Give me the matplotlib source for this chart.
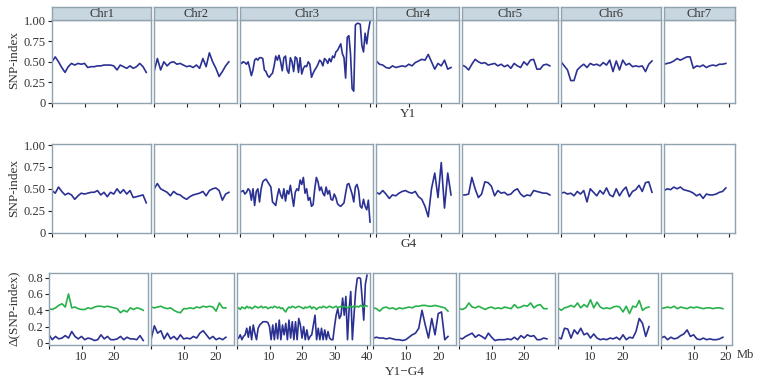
import numpy as np
import matplotlib
matplotlib.use('Agg')
import matplotlib.pyplot as plt

plt.rcParams['font.family'] = ['Liberation Serif', 'DejaVu Serif']

chroms = ['Chr1', 'Chr2', 'Chr3', 'Chr4', 'Chr5', 'Chr6', 'Chr7']
chrom_len = [30.5, 25.5, 41.0, 25.5, 29.5, 30.8, 21.8]   # Mb, axis range
step = [1, 1, 0.5, 1, 1, 1, 1]                          # Mb between points
xticks = [[0, 10, 20], [0, 10, 20], [0, 10, 20, 30, 40], [0, 10, 20],
          [0, 10, 20], [0, 10, 20], [0, 10, 20]]

# SNP-index of Y1
y1_chr1 = [0.50, 0.56, 0.50, 0.43, 0.37, 0.44, 0.48, 0.46, 0.48, 0.47, 0.48, 0.43, 0.44, 0.44, 0.45,
           0.45, 0.46, 0.46, 0.46, 0.45, 0.40, 0.46, 0.44, 0.42, 0.45, 0.42, 0.44, 0.48, 0.44, 0.37]
y1_chr2 = [0.38, 0.54, 0.40, 0.50, 0.45, 0.49, 0.50, 0.47, 0.48, 0.46, 0.44, 0.45, 0.43, 0.46, 0.42,
           0.54, 0.44, 0.61, 0.50, 0.42, 0.32, 0.38, 0.45, 0.50]
y1_chr3 = [0.50, 0.48, 0.50, 0.49, 0.47, 0.50, 0.42, 0.33, 0.40, 0.52,
           0.54, 0.52, 0.55, 0.55, 0.54, 0.40, 0.38, 0.33, 0.31, 0.34,
           0.36, 0.45, 0.57, 0.52, 0.58, 0.50, 0.39, 0.55, 0.57, 0.40,
           0.36, 0.55, 0.50, 0.38, 0.56, 0.54, 0.37, 0.55, 0.35, 0.42,
           0.45, 0.44, 0.50, 0.47, 0.31, 0.36, 0.40, 0.43, 0.47, 0.52,
           0.50, 0.45, 0.54, 0.52, 0.48, 0.54, 0.50, 0.57, 0.55, 0.62,
           0.64, 0.68, 0.72, 0.60, 0.55, 0.30, 0.80, 0.82, 0.60, 0.17,
           0.14, 0.95, 0.97, 0.97, 0.96, 0.70, 0.62, 0.85, 0.72, 0.88,
           0.99]
y1_chr4 = [0.51, 0.47, 0.46, 0.43, 0.42, 0.45, 0.43, 0.44, 0.45, 0.44, 0.47, 0.45, 0.49, 0.51, 0.53,
           0.52, 0.59, 0.50, 0.41, 0.48, 0.45, 0.52, 0.41, 0.43]
y1_chr5 = [0.46, 0.44, 0.40, 0.47, 0.53, 0.50, 0.48, 0.49, 0.46, 0.47, 0.48, 0.45, 0.47, 0.44, 0.46,
           0.42, 0.48, 0.45, 0.43, 0.50, 0.46, 0.52, 0.53, 0.41, 0.41, 0.46, 0.47, 0.45]
y1_chr6 = [0.50, 0.45, 0.40, 0.27, 0.27, 0.40, 0.44, 0.47, 0.43, 0.48, 0.46, 0.47, 0.45, 0.49, 0.46,
           0.52, 0.38, 0.51, 0.40, 0.52, 0.46, 0.48, 0.44, 0.45, 0.44, 0.45, 0.38, 0.47, 0.51]
y1_chr7 = [0.47, 0.48, 0.49, 0.51, 0.54, 0.52, 0.54, 0.56, 0.56, 0.42, 0.45, 0.44, 0.46, 0.43, 0.45,
           0.46, 0.45, 0.47, 0.47, 0.48]

# SNP-index of G4
g4_chr1 = [0.48, 0.45, 0.52, 0.47, 0.43, 0.45, 0.43, 0.38, 0.42, 0.45, 0.44, 0.45, 0.46, 0.46, 0.48,
           0.43, 0.46, 0.41, 0.46, 0.44, 0.50, 0.45, 0.49, 0.44, 0.48, 0.40, 0.41, 0.42, 0.43, 0.34]
g4_chr2 = [0.50, 0.56, 0.50, 0.48, 0.46, 0.42, 0.47, 0.44, 0.43, 0.40, 0.38, 0.41, 0.43, 0.44, 0.45,
           0.47, 0.42, 0.48, 0.50, 0.51, 0.48, 0.37, 0.44, 0.46]
g4_chr3 = [0.46, 0.47, 0.48, 0.44, 0.46, 0.50, 0.48, 0.37, 0.50, 0.31,
           0.47, 0.50, 0.35, 0.50, 0.58, 0.60, 0.61, 0.58, 0.55, 0.52,
           0.35, 0.33, 0.31, 0.42, 0.50, 0.43, 0.39, 0.50, 0.36, 0.48,
           0.44, 0.54, 0.42, 0.30, 0.46, 0.50, 0.48, 0.60, 0.55, 0.63,
           0.45, 0.50, 0.37, 0.40, 0.30, 0.32, 0.50, 0.63, 0.58, 0.48,
           0.52, 0.45, 0.42, 0.52, 0.44, 0.48, 0.38, 0.37, 0.44, 0.40,
           0.33, 0.31, 0.30, 0.32, 0.34, 0.45, 0.55, 0.56, 0.50, 0.44,
           0.35, 0.52, 0.55, 0.48, 0.30, 0.28, 0.38, 0.30, 0.26, 0.37,
           0.12]
g4_chr4 = [0.46, 0.44, 0.48, 0.44, 0.39, 0.43, 0.42, 0.45, 0.47, 0.48, 0.46, 0.45, 0.47, 0.41, 0.38,
           0.30, 0.18, 0.50, 0.68, 0.40, 0.80, 0.28, 0.68, 0.43]
g4_chr5 = [0.43, 0.43, 0.44, 0.63, 0.50, 0.40, 0.44, 0.58, 0.57, 0.53, 0.42, 0.48, 0.45, 0.46, 0.43,
           0.44, 0.48, 0.50, 0.44, 0.41, 0.43, 0.42, 0.48, 0.47, 0.46, 0.45, 0.45, 0.43]
g4_chr6 = [0.45, 0.46, 0.44, 0.45, 0.42, 0.47, 0.44, 0.48, 0.35, 0.50, 0.46, 0.42, 0.48, 0.44, 0.51,
           0.43, 0.41, 0.50, 0.42, 0.48, 0.52, 0.41, 0.47, 0.49, 0.54, 0.47, 0.57, 0.58, 0.46]
g4_chr7 = [0.48, 0.50, 0.49, 0.52, 0.50, 0.52, 0.49, 0.48, 0.47, 0.45, 0.42, 0.44, 0.39, 0.44, 0.43,
           0.43, 0.44, 0.46, 0.47, 0.51]

# delta(SNP-index) Y1-G4
d_chr1 = [0.10, 0.04, 0.08, 0.05, 0.06, 0.09, 0.06, 0.14, 0.08, 0.05, 0.08, 0.04, 0.06, 0.05, 0.03,
          0.04, 0.10, 0.05, 0.08, 0.04, 0.04, 0.05, 0.08, 0.04, 0.07, 0.05, 0.05, 0.04, 0.09, 0.03]
d_chr2 = [0.05, 0.21, 0.12, 0.15, 0.05, 0.12, 0.05, 0.08, 0.04, 0.10, 0.05, 0.06, 0.05, 0.08, 0.06,
          0.12, 0.15, 0.10, 0.05, 0.08, 0.04, 0.06, 0.04, 0.07]
d_chr3 = [0.05, 0.06, 0.10, 0.04, 0.08, 0.10, 0.18, 0.07, 0.20, 0.04,
          0.22, 0.12, 0.04, 0.18, 0.22, 0.24, 0.26, 0.26, 0.26, 0.25,
          0.20, 0.04, 0.22, 0.04, 0.24, 0.05, 0.28, 0.04, 0.22, 0.10,
          0.24, 0.04, 0.28, 0.06, 0.26, 0.04, 0.26, 0.04, 0.30, 0.22,
          0.06, 0.20, 0.04, 0.16, 0.04, 0.08, 0.10, 0.22, 0.34, 0.04,
          0.18, 0.04, 0.18, 0.04, 0.16, 0.04, 0.14, 0.06, 0.04, 0.04,
          0.20, 0.34, 0.42, 0.30, 0.34, 0.55, 0.34, 0.57, 0.04, 0.42,
          0.63, 0.04, 0.34, 0.63, 0.79, 0.80, 0.79, 0.55, 0.28, 0.72,
          0.83]
d_chr4 = [0.06, 0.07, 0.06, 0.06, 0.05, 0.06, 0.05, 0.04, 0.04, 0.03, 0.04, 0.07, 0.10, 0.12, 0.18,
          0.40, 0.22, 0.06, 0.30, 0.10, 0.36, 0.38, 0.04, 0.08]
d_chr5 = [0.06, 0.05, 0.08, 0.10, 0.12, 0.07, 0.10, 0.08, 0.05, 0.12, 0.07, 0.03, 0.04, 0.04, 0.04,
          0.05, 0.04, 0.07, 0.04, 0.09, 0.06, 0.10, 0.08, 0.09, 0.04, 0.04, 0.06, 0.05]
d_chr6 = [0.07, 0.05, 0.18, 0.17, 0.06, 0.16, 0.11, 0.18, 0.10, 0.12, 0.06, 0.11, 0.06, 0.04, 0.05,
          0.04, 0.06, 0.05, 0.07, 0.04, 0.10, 0.04, 0.07, 0.06, 0.14, 0.30, 0.24, 0.08, 0.20]
d_chr7 = [0.06, 0.08, 0.04, 0.07, 0.05, 0.06, 0.09, 0.11, 0.16, 0.08, 0.10, 0.05, 0.04, 0.06, 0.04,
          0.05, 0.04, 0.04, 0.05, 0.07]

# 95% threshold of delta
ci_chr1 = [0.42, 0.41, 0.43, 0.46, 0.48, 0.44, 0.60, 0.43, 0.44, 0.42, 0.41, 0.41, 0.43, 0.42, 0.44,
           0.45, 0.45, 0.44, 0.45, 0.44, 0.43, 0.42, 0.37, 0.40, 0.38, 0.43, 0.41, 0.43, 0.42, 0.40]
ci_chr2 = [0.44, 0.43, 0.44, 0.45, 0.43, 0.42, 0.43, 0.40, 0.38, 0.37, 0.42, 0.42, 0.43, 0.42, 0.44,
           0.43, 0.45, 0.44, 0.45, 0.44, 0.39, 0.49, 0.43, 0.43]
ci_chr3 = [0.42, 0.43, 0.41, 0.44, 0.43, 0.42, 0.45, 0.43, 0.44, 0.42,
           0.43, 0.45, 0.44, 0.43, 0.44, 0.45, 0.43, 0.44, 0.44, 0.42,
           0.43, 0.44, 0.43, 0.45, 0.44, 0.43, 0.44, 0.42, 0.43, 0.40,
           0.38, 0.42, 0.44, 0.43, 0.45, 0.44, 0.43, 0.44, 0.45, 0.44,
           0.43, 0.42, 0.44, 0.43, 0.44, 0.45, 0.42, 0.44, 0.43, 0.41,
           0.43, 0.44, 0.43, 0.45, 0.44, 0.43, 0.44, 0.45, 0.44, 0.43,
           0.44, 0.45, 0.43, 0.44, 0.45, 0.44, 0.45, 0.44, 0.43, 0.44,
           0.45, 0.44, 0.45, 0.44, 0.45, 0.44, 0.46, 0.45, 0.44, 0.46,
           0.45]
ci_chr4 = [0.43, 0.42, 0.39, 0.43, 0.44, 0.42, 0.43, 0.41, 0.43, 0.42, 0.43, 0.44, 0.43, 0.45, 0.45,
           0.46, 0.46, 0.45, 0.45, 0.46, 0.45, 0.44, 0.43, 0.39]
ci_chr5 = [0.42, 0.41, 0.43, 0.49, 0.44, 0.43, 0.45, 0.43, 0.41, 0.43, 0.44, 0.42, 0.43, 0.42, 0.44,
           0.43, 0.42, 0.47, 0.43, 0.44, 0.46, 0.45, 0.49, 0.43, 0.46, 0.47, 0.42, 0.42]
ci_chr6 = [0.43, 0.40, 0.43, 0.44, 0.46, 0.44, 0.49, 0.43, 0.47, 0.44, 0.53, 0.43, 0.50, 0.44, 0.42,
           0.43, 0.42, 0.44, 0.45, 0.44, 0.38, 0.45, 0.36, 0.45, 0.44, 0.52, 0.40, 0.43, 0.44]
ci_chr7 = [0.42, 0.43, 0.44, 0.43, 0.45, 0.42, 0.44, 0.43, 0.42, 0.44, 0.43, 0.44, 0.43, 0.42, 0.43,
           0.43, 0.42, 0.43, 0.43, 0.42]

y1 = [y1_chr1, y1_chr2, y1_chr3, y1_chr4, y1_chr5, y1_chr6, y1_chr7]
g4 = [g4_chr1, g4_chr2, g4_chr3, g4_chr4, g4_chr5, g4_chr6, g4_chr7]
delta = [d_chr1, d_chr2, d_chr3, d_chr4, d_chr5, d_chr6, d_chr7]
ci = [ci_chr1, ci_chr2, ci_chr3, ci_chr4, ci_chr5, ci_chr6, ci_chr7]

blue = '#2b3192'
green = '#27b14a'
edge = '#8fa2b0'
strip_col = '#c8d6e0'

W, H = 760, 383
fig = plt.figure(figsize=(W / 100, H / 100), dpi=100)

px_per_mb = 3.25
gap = 3
# (left start, top, bottom) in pixels for each row
rows = [(52, 20, 103), (52, 144, 233), (49, 273, 345)]


def add_ax(l, t, w, h):
    return fig.add_axes([l / W, 1 - (t + h) / H, w / W, h / H])


for r, (x0, top, bot) in enumerate(rows):
    left = x0
    for c in range(7):
        w = chrom_len[c] * px_per_mb
        ax = add_ax(left, top, w, bot - top)
        if r < 2:
            data = y1[c] if r == 0 else g4[c]
            x = np.arange(len(data)) * step[c]
            ax.plot(x, data, color=blue, lw=1.2)
            ax.set_ylim(-0.005, 1.012)
            ax.set_yticks([0, 0.25, 0.5, 0.75, 1.0])
            ax.set_yticklabels(['0', '0.25', '0.50', '0.75', '1.00'])
        else:
            x = np.arange(len(delta[c])) * step[c]
            ax.plot(x, delta[c], color=blue, lw=1.2)
            ax.plot(np.arange(len(ci[c])) * step[c], ci[c], color=green, lw=1.2)
            ax.set_ylim(-0.025, 0.857)
            ax.set_yticks([0, 0.2, 0.4, 0.6, 0.8])
            ax.set_yticklabels(['0', '0.2', '0.4', '0.6', '0.8'])
        ax.set_xlim(0, chrom_len[c])
        ax.set_xticks(xticks[c])
        if r == 2:
            ax.set_xticklabels([''] + [str(t) for t in xticks[c][1:]])
        else:
            ax.set_xticklabels([])
        if c > 0:
            ax.tick_params(axis='y', left=False, labelleft=False)
        ax.tick_params(direction='out', length=3, width=0.8, color='#222222',
                       labelsize=9, labelcolor='#333333', pad=1.5)
        for s in ax.spines.values():
            s.set_color(edge)
            s.set_linewidth(1.0)
        if r == 0:
            sax = add_ax(left, 7, w, 13)
            sax.set_facecolor(strip_col)
            sax.set_xticks([])
            sax.set_yticks([])
            for s in sax.spines.values():
                s.set_color(edge)
                s.set_linewidth(1.0)
            sax.text(0.5, 0.45, chroms[c], ha='center', va='center',
                     fontsize=9, color='#333333', transform=sax.transAxes)
        left += w + gap

fig.text(14 / W, 1 - 60 / H, 'SNP-index', rotation=90, ha='center', va='center', fontsize=9.5, color='#333333')
fig.text(14 / W, 1 - 188 / H, 'SNP-index', rotation=90, ha='center', va='center', fontsize=9.5, color='#333333')
fig.text(14 / W, 1 - 308 / H, 'Δ(SNP-index)', rotation=90, ha='center', va='center', fontsize=9.5, color='#333333')

fig.text(408 / W, 1 - 114 / H, 'Y1', ha='center', va='center', fontsize=9.5, color='#333333')
fig.text(409 / W, 1 - 244 / H, 'G4', ha='center', va='center', fontsize=9.5, color='#333333')
fig.text(405 / W, 1 - 372 / H, 'Y1−G4', ha='center', va='center', fontsize=9.5, color='#333333')
fig.text(737 / W, 1 - 355 / H, 'Mb', ha='left', va='center', fontsize=9, color='#333333')

fig.savefig('out.png', dpi=100)
